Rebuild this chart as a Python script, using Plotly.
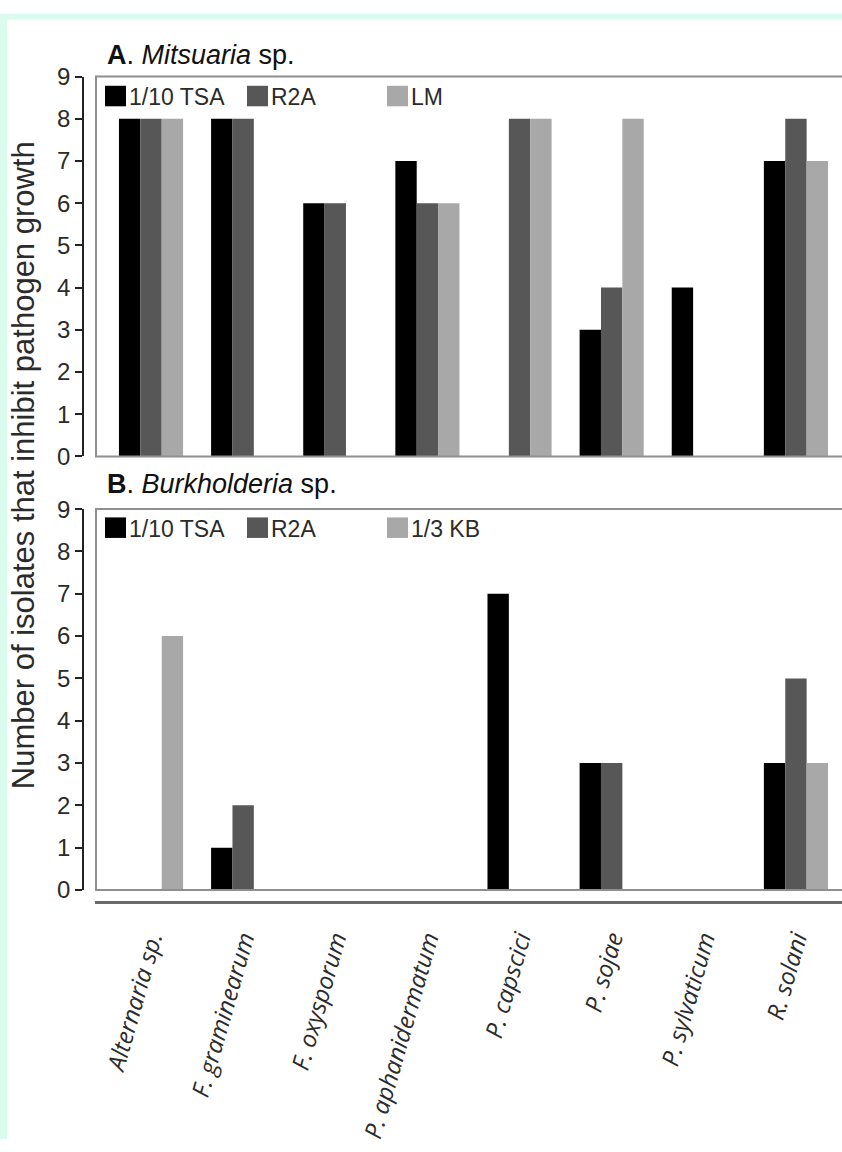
import plotly.graph_objects as go

# Pathogens tested (x categories)
pathogens = ["Alternaria sp.", "F. graminearum", "F. oxysporum", "P. aphanidermatum",
             "P. capscici", "P. sojae", "P. sylvaticum", "R. solani"]

# Panel A: Mitsuaria sp. isolates inhibiting each pathogen, by isolation medium
mits_tsa = [8, 8, 6, 7, 0, 3, 4, 7]
mits_r2a = [8, 8, 6, 6, 8, 4, 0, 8]
mits_lm = [8, 0, 0, 6, 8, 8, 0, 7]

# Panel B: Burkholderia sp. isolates inhibiting each pathogen, by isolation medium
burk_tsa = [0, 1, 0, 0, 7, 3, 0, 3]
burk_r2a = [0, 2, 0, 0, 0, 3, 0, 5]
burk_kb = [6, 0, 0, 0, 0, 0, 0, 3]

y_ticks = list(range(0, 10))

W, H = 842, 1152
BLACK, DARK, LIGHT = "#000000", "#575757", "#a8a8a8"
FRAME = "#8f8f8f"
TXT = "#2b2b2b"
MINT = "#dafcef"
AX_FONT = "Liberation Sans, Arial, sans-serif"


def px_x(p):
    return p / W


def px_y(p):
    return 1 - p / H


x_idx = list(range(len(pathogens)))
fig = go.Figure()

panels = [
    ("x", "y", 84, [("1/10 TSA", mits_tsa, BLACK), ("R2A", mits_r2a, DARK), ("LM", mits_lm, LIGHT)]),
    ("x2", "y2", 526, [("1/10 TSA", burk_tsa, BLACK), ("R2A", burk_r2a, DARK), ("1/3 KB", burk_kb, LIGHT)]),
]

shapes = [
    # mint page edges
    dict(type="rect", xref="paper", yref="paper", x0=0, x1=px_x(7), y0=0, y1=1,
         fillcolor=MINT, line=dict(width=0), layer="below"),
    dict(type="rect", xref="paper", yref="paper", x0=0, x1=1, y0=px_y(6), y1=1,
         fillcolor=MINT, line=dict(width=0), layer="below"),
    # panel frames (right edge runs off the page)
    dict(type="rect", xref="paper", yref="paper", x0=px_x(96), x1=1.02, y0=px_y(453), y1=px_y(64),
         fillcolor="rgba(0,0,0,0)", line=dict(color=FRAME, width=2), layer="above"),
    dict(type="rect", xref="paper", yref="paper", x0=px_x(96), x1=1.02, y0=px_y(897), y1=px_y(507),
         fillcolor="rgba(0,0,0,0)", line=dict(color=FRAME, width=2), layer="above"),
]
annotations = []

# legend key positions (left edge of each square, px)
key_x = [105, 247, 387]
for xa, ya, key_y, series in panels:
    for (name, vals, col), kx in zip(series, key_x):
        fig.add_trace(go.Bar(x=x_idx, y=vals, name=name, marker=dict(color=col, line=dict(width=0)),
                             xaxis=xa, yaxis=ya, showlegend=False))
        shapes.append(dict(type="rect", xref="paper", yref="paper",
                           x0=px_x(kx), x1=px_x(kx + 21), y0=px_y(key_y + 10.5), y1=px_y(key_y - 10.5),
                           fillcolor=col, line=dict(width=0)))
        annotations.append(dict(text=name, xref="paper", yref="paper", x=px_x(kx + 22), y=px_y(key_y + 1),
                                xanchor="left", yanchor="middle", showarrow=False,
                                font=dict(family=AX_FONT, size=23, color=TXT)))

x_dom = [px_x(95), 1]
x_rng = [-0.608, 7.5]
y_common = dict(range=[0, 9], tickvals=y_ticks, ticks="outside", ticklen=7, tickwidth=1.5,
                tickcolor="#222", showline=True, linecolor="#222", linewidth=1.5,
                showgrid=False, zeroline=False, anchor="free", position=px_x(83),
                tickfont=dict(family=AX_FONT, size=24, color=TXT))

annotations += [
    dict(text="<b>A</b>. <i>Mitsuaria</i> sp.", xref="paper", yref="paper",
         x=px_x(105), y=px_y(42), xanchor="left", yanchor="middle", showarrow=False,
         font=dict(family=AX_FONT, size=27, color="#111")),
    dict(text="<b>B</b>. <i>Burkholderia</i> sp.", xref="paper", yref="paper",
         x=px_x(105), y=px_y(481), xanchor="left", yanchor="middle", showarrow=False,
         font=dict(family=AX_FONT, size=27, color="#111")),
    dict(text="Number of isolates that inhibit pathogen growth", xref="paper", yref="paper",
         x=px_x(23), y=px_y(462), xanchor="center", yanchor="middle", textangle=-90,
         showarrow=False, font=dict(family=AX_FONT, size=31, color=TXT)),
]

fig.update_layout(
    width=W, height=H,
    margin=dict(l=0, r=0, t=0, b=0),
    paper_bgcolor="white",
    plot_bgcolor="rgba(0,0,0,0)",
    barmode="group", bargap=0.304, bargroupgap=0,
    showlegend=False,
    xaxis=dict(domain=x_dom, range=x_rng, anchor="y", showticklabels=False, showline=False,
               showgrid=False, zeroline=False, ticks=""),
    yaxis=dict(domain=[px_y(453), px_y(64)], **y_common),
    xaxis2=dict(domain=x_dom, range=x_rng, anchor="free", position=px_y(909),
                tickvals=x_idx, ticktext=[f"<i>{p}</i>" for p in pathogens], tickangle=-74,
                ticks="", ticklabelstandoff=12, showline=True, linecolor="#6a6a6a", linewidth=2.5,
                showgrid=False, zeroline=False,
                tickfont=dict(family="Open Sans, sans-serif", size=24, color=TXT)),
    yaxis2=dict(domain=[px_y(897), px_y(507)], **y_common),
    shapes=shapes,
    annotations=annotations,
)

fig.write_html("out.html")
